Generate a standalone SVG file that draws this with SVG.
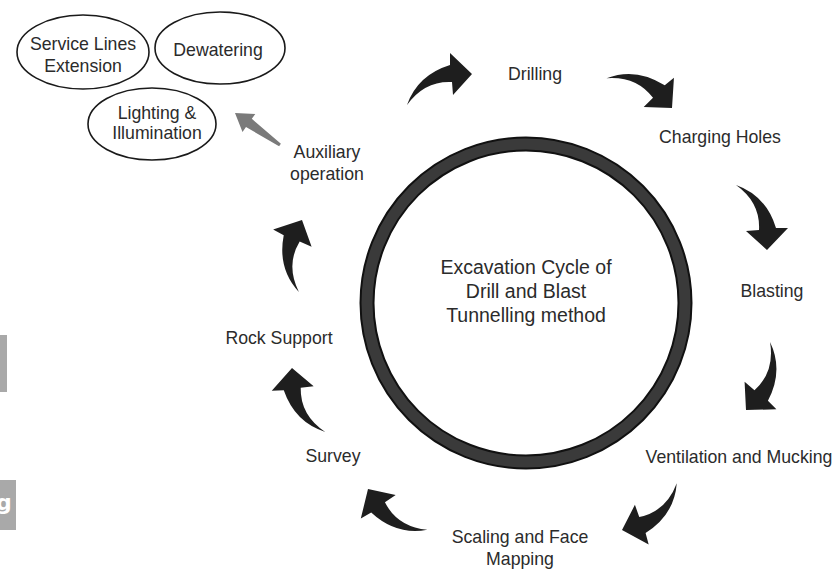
<svg xmlns="http://www.w3.org/2000/svg" width="838" height="570" viewBox="0 0 838 570">
<style>
.t{font-family:"Liberation Sans",Arial,sans-serif;font-size:17.7px;fill:#2b2b2b;text-anchor:middle}
.c{font-size:19.5px}
.e{fill:#fff;stroke:#1a1a1a;stroke-width:1.6}
.arr{fill:#1e1e1e}
</style>
<defs>
<path id="ca" d="M -65,31 Q -54.5,1 -22,-9 L -22,-21 L 0,0 L -19,21 L -20,8 Q -47.5,6.5 -65,31 Z"/>
</defs>
<rect width="838" height="570" fill="#fff"/>
<g id="edge-fragments">
<rect x="0" y="335" width="7" height="57" fill="#a9a9a9"/>
<rect x="0" y="480" width="16" height="50" fill="#a9a9a9"/>
<text x="-4" y="510" font-family="DejaVu Sans,sans-serif" font-weight="bold" font-size="22" fill="#fff">g</text>
</g>
<g id="cycle">
<circle cx="526" cy="303" r="159" fill="none" stroke="#111" stroke-width="15"/>
<circle cx="526" cy="303" r="159" fill="none" stroke="#3a3a3a" stroke-width="11"/>
<text class="t c" x="526" y="274">Excavation Cycle of</text>
<text class="t c" x="526" y="298">Drill and Blast</text>
<text class="t c" x="526" y="322">Tunnelling method</text>
</g>
<g id="drilling"><text class="t" x="535" y="80">Drilling</text></g>
<g id="charging"><text class="t" x="720" y="143">Charging Holes</text></g>
<g id="blasting"><text class="t" x="772" y="297">Blasting</text></g>
<g id="ventilation"><text class="t" x="739" y="463">Ventilation and Mucking</text></g>
<g id="scaling"><text class="t" x="520" y="543">Scaling and Face</text><text class="t" x="520" y="565">Mapping</text></g>
<g id="survey"><text class="t" x="333" y="462">Survey</text></g>
<g id="rock-support"><text class="t" x="279" y="344">Rock Support</text></g>
<g id="auxiliary"><text class="t" x="327" y="158">Auxiliary</text><text class="t" x="327" y="180">operation</text></g>
<g id="service-lines"><ellipse class="e" cx="83" cy="52" rx="66" ry="37"/><text class="t" x="83" y="50">Service Lines</text><text class="t" x="83" y="72">Extension</text></g>
<g id="dewatering"><ellipse class="e" cx="220" cy="48" rx="65" ry="36"/><text class="t" x="218" y="56">Dewatering</text></g>
<g id="lighting"><ellipse class="e" cx="152" cy="124" rx="64" ry="36"/><text class="t" x="157" y="119">Lighting &amp;</text><text class="t" x="157" y="139">Illumination</text></g>
<g id="connectors">
<use href="#ca" class="arr" transform="translate(472,74) rotate(0)"/>
<use href="#ca" class="arr" transform="translate(672,108) rotate(50)"/>
<use href="#ca" class="arr" transform="translate(767,250) rotate(90)"/>
<use href="#ca" class="arr" transform="translate(746,410) rotate(135)"/>
<use href="#ca" class="arr" transform="translate(622,530) rotate(165)"/>
<use href="#ca" class="arr" transform="translate(368,489) rotate(-120)"/>
<use href="#ca" class="arr" transform="translate(292,368) rotate(-92)"/>
<use href="#ca" class="arr" transform="translate(302,220) rotate(-62)"/>
<polygon fill="#7a7a7a" points="235,113 255.3,113.9 251.8,118.8 280.9,143.8 279.1,146.2 246,127 242.5,131.9"/>
</g>
</svg>
